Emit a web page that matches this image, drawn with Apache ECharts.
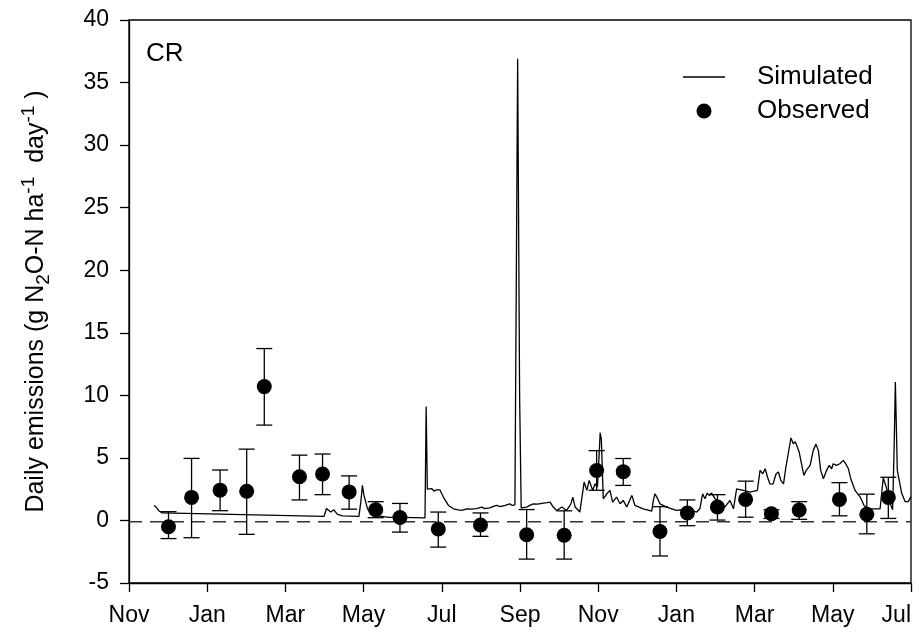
<!DOCTYPE html>
<html>
<head>
<meta charset="utf-8">
<script src="https://cdn.jsdelivr.net/npm/echarts@6/dist/echarts.min.js"></script>
<style>
html,body{margin:0;padding:0;background:#fff;}
#chart{width:923px;height:633px;}
</style>
</head>
<body>
<div id="chart"></div>
<script>
// x values are months since the first "Nov" tick
const xTickLabels = ['Nov','Jan','Mar','May','Jul','Sep','Nov','Jan','Mar','May','Jul'];
const yTicks = [-5, 0, 5, 10, 15, 20, 25, 30, 35, 40];

const simMonth = [0.64,0.70,0.77,0.85,4.99,5.05,5.08,5.16,5.24,5.33,5.46,5.88,5.93,5.97,6.01,6.10,6.22,6.65,7.00,7.57,7.60,7.63,7.66,7.74,7.80,7.87,7.95,8.04,8.17,8.30,8.42,8.51,8.64,8.75,8.89,9.02,9.10,9.23,9.30,9.40,9.50,9.62,9.74,9.80,9.87,9.91,9.94,9.99,10.03,10.07,10.17,10.25,10.34,10.45,10.60,10.70,10.77,10.85,10.94,11.07,11.19,11.30,11.35,11.41,11.53,11.64,11.71,11.77,11.86,11.92,11.98,12.02,12.05,12.08,12.13,12.22,12.30,12.37,12.47,12.56,12.64,12.73,12.86,12.94,13.15,13.37,13.41,13.45,13.50,13.58,13.75,14.00,14.10,14.18,14.30,14.52,14.60,14.67,14.73,14.79,14.84,14.90,14.99,15.12,15.24,15.37,15.46,15.54,15.71,15.88,16.07,16.14,16.21,16.27,16.33,16.39,16.47,16.55,16.61,16.67,16.74,16.80,16.86,16.93,16.99,17.04,17.08,17.14,17.20,17.26,17.32,17.42,17.50,17.57,17.63,17.69,17.76,17.84,17.91,17.97,18.01,18.09,18.18,18.27,18.33,18.40,18.46,18.57,18.70,18.80,18.90,19.21,19.29,19.38,19.45,19.53,19.57,19.60,19.65,19.76,19.85,19.93,20.00];
const simValue = [1.20,1.05,0.75,0.60,0.33,0.95,1.00,0.67,0.85,0.48,0.37,0.32,1.50,2.80,2.00,0.93,0.42,0.25,0.25,0.20,9.10,2.50,2.45,2.55,2.35,2.45,2.45,1.87,1.20,0.93,0.85,0.80,0.93,0.90,0.95,1.07,0.95,1.00,1.10,1.20,1.10,1.20,1.33,1.20,1.25,1.20,36.90,10.00,1.00,0.93,1.07,1.20,1.33,1.30,1.39,1.42,1.47,1.07,0.80,1.07,0.80,1.30,1.87,1.07,0.67,3.07,2.40,3.20,2.40,2.93,2.67,5.00,7.00,6.50,1.73,2.13,2.40,1.47,1.87,1.33,1.60,1.07,2.00,1.20,0.93,0.75,1.60,2.13,1.87,1.33,1.07,0.80,0.85,0.67,0.90,0.67,0.93,2.13,1.73,2.19,2.00,2.19,1.73,1.47,1.07,1.60,0.93,2.53,2.40,2.27,2.40,4.00,3.73,4.13,3.47,2.93,2.90,3.73,3.87,3.20,2.93,4.27,5.33,6.60,6.13,6.30,6.27,5.47,4.53,3.60,4.00,4.40,5.60,6.10,5.60,4.00,3.33,4.00,4.40,4.13,4.53,4.40,4.53,4.80,4.53,4.13,3.33,2.40,1.87,1.20,0.93,0.93,3.40,2.53,1.50,0.85,6.00,11.07,4.00,2.20,1.50,1.50,1.90];

const obsMonth = [1.01,1.60,2.33,3.01,3.46,4.36,4.95,5.63,6.31,6.93,7.91,8.99,10.17,11.13,11.96,12.64,13.58,14.28,15.05,15.77,16.43,17.14,18.17,18.87,19.42];
const obsValue = [-0.50,1.84,2.42,2.33,10.70,3.49,3.71,2.28,0.86,0.24,-0.68,-0.36,-1.14,-1.18,3.99,3.90,-0.88,0.60,1.08,1.68,0.54,0.84,1.68,0.50,1.84];
const obsLow   = [-1.45,-1.38,0.78,-1.11,7.62,1.64,2.06,0.90,0.22,-0.93,-2.13,-1.27,-3.09,-3.09,2.41,2.80,-2.84,-0.42,0.03,0.26,0.16,0.09,0.37,-1.07,0.16];
const obsHigh  = [0.70,4.96,4.03,5.70,13.74,5.22,5.31,3.56,1.50,1.36,0.67,0.60,0.87,0.77,5.58,4.95,1.10,1.64,2.06,3.14,0.85,1.50,3.02,2.10,3.45];
const zeroRef = -0.1;
const zeroSpan = [0, 20];

const FONT = '"Liberation Sans", Arial, sans-serif';
const simData = simMonth.map((m, i) => [m, simValue[i]]);
const obsData = obsMonth.map((m, i) => [m, obsValue[i]]);
const errData = obsMonth.map((m, i) => [m, obsLow[i], obsHigh[i]]);
const zeroData = zeroSpan.map(m => [m, zeroRef]);

const chart = echarts.init(document.getElementById('chart'), null, {renderer: 'canvas'});
chart.setOption({
  animation: false,
  backgroundColor: '#fff',
  textStyle: {fontFamily: FONT, color: '#000'},
  grid: {left: 129, right: 12, top: 20, bottom: 50, show: true, borderColor: '#000', borderWidth: 1.3, backgroundColor: 'transparent'},
  legend: {
    show: true,
    orient: 'vertical', left: 678, top: 59, itemGap: 8,
    itemWidth: 42, itemHeight: 15, symbolKeepAspect: true,
    textStyle: {fontSize: 26, fontFamily: FONT, color: '#000', padding: [0, 0, 0, 27]},
    data: [
      {name: 'Simulated', icon: 'path://M0,0L42,0L42,1.3L0,1.3Z', itemStyle: {color: '#000'}},
      {name: 'Observed', icon: 'circle', itemStyle: {color: '#000'}}
    ]
  },
  graphic: [{type: 'text', left: 146, top: 41, style: {text: 'CR', fontSize: 26, fontFamily: FONT, fill: '#000'}}],
  xAxis: {
    type: 'value', min: 0, max: 20, interval: 2,
    axisLine: {onZero: false, lineStyle: {color: '#000', width: 1.3}},
    axisTick: {inside: false, length: 9, lineStyle: {color: '#000', width: 1.3}},
    axisLabel: {fontSize: 23, fontFamily: FONT, color: '#000', margin: 21, alignMaxLabel: 'right',
      formatter: v => xTickLabels[Math.round(v / 2)]},
    splitLine: {show: false}
  },
  yAxis: {
    type: 'value', min: yTicks[0], max: yTicks[yTicks.length - 1], interval: 5,
    axisLine: {onZero: false, lineStyle: {color: '#000', width: 1.3}},
    axisTick: {inside: false, length: 9, lineStyle: {color: '#000', width: 1.3}},
    axisLabel: {fontSize: 23, fontFamily: FONT, color: '#000', margin: 20},
    splitLine: {show: false},
    name: 'Daily emissions (g N{sub|2}O-N ha{sup|-1}  day{sup|-1} )',
    nameLocation: 'middle', nameRotate: 90, nameGap: 76,
    nameTextStyle: {fontSize: 25, fontFamily: FONT, color: '#000', lineHeight: 34,
      rich: {
        sub: {fontSize: 19, fontFamily: FONT, color: '#000', verticalAlign: 'bottom', lineHeight: 19},
        sup: {fontSize: 19, fontFamily: FONT, color: '#000', verticalAlign: 'top', lineHeight: 19}
      }}
  },
  series: [
    {
      name: 'ZeroLine', type: 'line', data: zeroData, symbol: 'none', silent: true, z: 2,
      lineStyle: {type: [13, 8], color: '#333', width: 1.5}
    },
    {
      name: 'Simulated', type: 'line', data: simData, symbol: 'none', showSymbol: false,
      lineStyle: {color: '#000', width: 1.3}, itemStyle: {color: '#000'}, z: 3
    },
    {
      name: 'ErrorBars', type: 'custom', data: errData, z: 4,
      encode: {x: 0, y: [1, 2]},
      renderItem: function (params, api) {
        const x = api.value(0);
        const lo = api.coord([x, api.value(1)]);
        const hi = api.coord([x, api.value(2)]);
        const w = 8;
        const st = {stroke: '#000', lineWidth: 1.3};
        return {type: 'group', children: [
          {type: 'line', shape: {x1: lo[0], y1: lo[1], x2: hi[0], y2: hi[1]}, style: st},
          {type: 'line', shape: {x1: lo[0] - w, y1: lo[1], x2: lo[0] + w, y2: lo[1]}, style: st},
          {type: 'line', shape: {x1: hi[0] - w, y1: hi[1], x2: hi[0] + w, y2: hi[1]}, style: st}
        ]};
      }
    },
    {
      name: 'Observed', type: 'scatter', data: obsData, symbol: 'circle', symbolSize: 15,
      itemStyle: {color: '#000', opacity: 1}, z: 5
    }
  ]
});
</script>
</body>
</html>
